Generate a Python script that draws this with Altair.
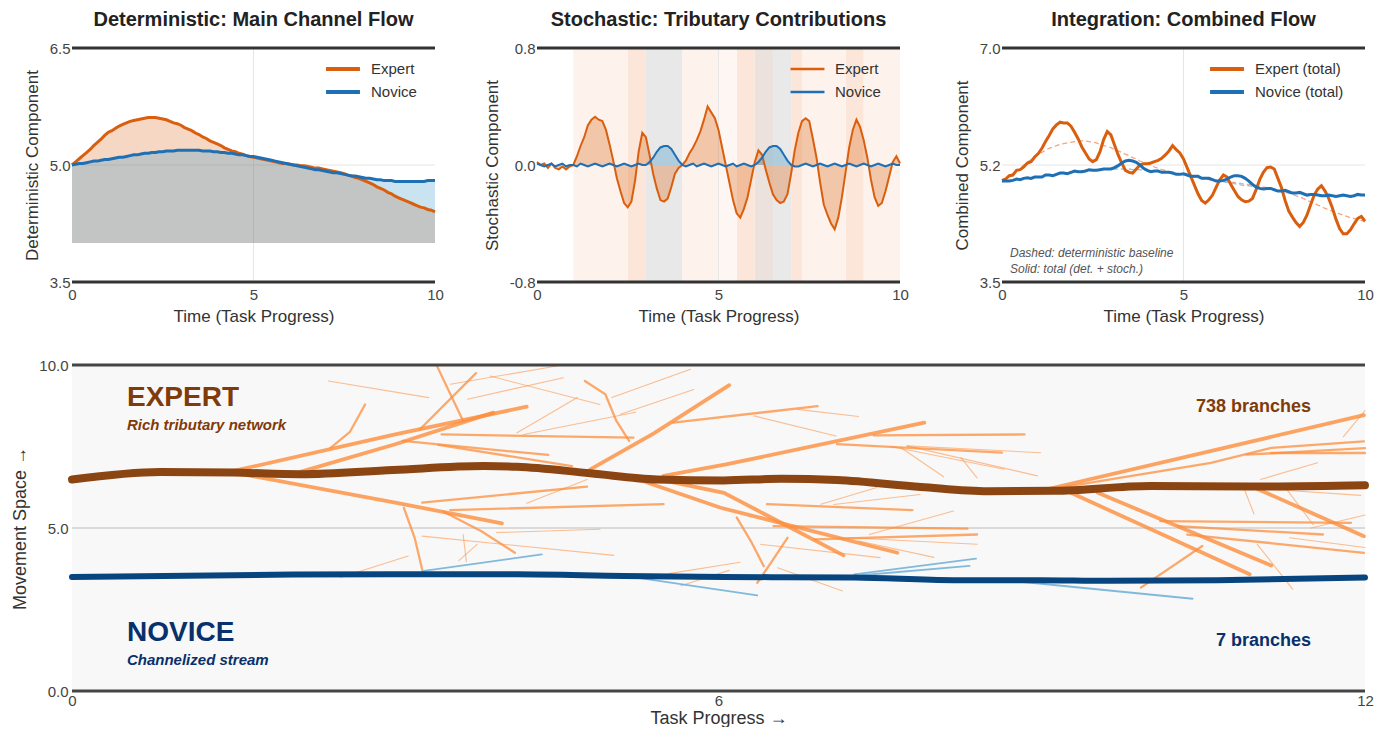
import altair as alt
import pandas as pd

# ---------------- colours ----------------
EXP = "#d95f0e"
NOV = "#1f6fb4"
EXP_FILL = "#d95f0e"
NOV_FILL = "#2d8fc2"
GRID = "#e6e6e6"
FRAME = "#333333"
BR_ORANGE = "#fd8d3c"
BR_BLUE = "#6baed6"
EXP_MAIN_C = "#8b4513"
NOV_MAIN_C = "#08457e"
EXP_TXT = "#7f3b08"
NOV_TXT = "#08306b"

# ---------------- time grid ----------------
T = [i / 10 for i in range(101)]

DET_EXPERT = [5.00, 5.04, 5.08, 5.12, 5.16, 5.20, 5.25, 5.29, 5.33, 5.38,
              5.42, 5.44, 5.47, 5.50, 5.52, 5.54, 5.56, 5.57, 5.58, 5.59,
              5.60, 5.61, 5.61, 5.61, 5.60, 5.59, 5.58, 5.56, 5.54, 5.53,
              5.51, 5.48, 5.46, 5.44, 5.41, 5.39, 5.36, 5.34, 5.31, 5.29,
              5.27, 5.25, 5.22, 5.20, 5.18, 5.17, 5.15, 5.14, 5.12, 5.11,
              5.10, 5.09, 5.08, 5.07, 5.06, 5.05, 5.04, 5.03, 5.02, 5.02,
              5.01, 5.00, 5.00, 4.99, 4.99, 4.98, 4.97, 4.96, 4.96, 4.95,
              4.94, 4.93, 4.92, 4.91, 4.90, 4.89, 4.87, 4.86, 4.84, 4.83,
              4.81, 4.79, 4.77, 4.75, 4.72, 4.70, 4.68, 4.65, 4.63, 4.60,
              4.58, 4.56, 4.54, 4.52, 4.50, 4.48, 4.46, 4.45, 4.43, 4.42,
              4.40]

DET_NOVICE = [5.00, 5.01, 5.02, 5.02, 5.03, 5.04, 5.05, 5.05, 5.06, 5.07,
              5.07, 5.08, 5.09, 5.10, 5.10, 5.11, 5.12, 5.13, 5.13, 5.14,
              5.15, 5.15, 5.16, 5.16, 5.17, 5.17, 5.18, 5.18, 5.18, 5.19,
              5.19, 5.19, 5.19, 5.19, 5.19, 5.19, 5.18, 5.18, 5.18, 5.17,
              5.17, 5.16, 5.16, 5.15, 5.15, 5.14, 5.13, 5.13, 5.12, 5.11,
              5.11, 5.10, 5.09, 5.08, 5.07, 5.06, 5.05, 5.04, 5.03, 5.02,
              5.01, 5.00, 4.99, 4.98, 4.97, 4.96, 4.95, 4.94, 4.94, 4.93,
              4.92, 4.91, 4.90, 4.90, 4.89, 4.88, 4.87, 4.86, 4.86, 4.85,
              4.84, 4.83, 4.83, 4.82, 4.81, 4.81, 4.80, 4.80, 4.80, 4.79,
              4.79, 4.79, 4.79, 4.79, 4.79, 4.79, 4.79, 4.79, 4.80, 4.80,
              4.80]

STO_EXPERT = [0.02, 0.00, 0.01, -0.02, 0.01, -0.02, -0.03, -0.01, -0.03, -0.01,
              0.00, 0.06, 0.13, 0.19, 0.27, 0.31, 0.33, 0.31, 0.30, 0.24,
              0.14, 0.03, -0.09, -0.18, -0.26, -0.29, -0.25, -0.11, 0.09, 0.22,
              0.19, 0.07, -0.06, -0.16, -0.24, -0.25, -0.23, -0.15, -0.06, -0.02,
              0.00, 0.03, 0.08, 0.12, 0.17, 0.23, 0.31, 0.40, 0.36, 0.32,
              0.24, 0.12, 0.00, -0.12, -0.24, -0.33, -0.36, -0.30, -0.22, -0.10,
              0.02, 0.10, 0.07, -0.03, -0.12, -0.20, -0.24, -0.26, -0.25, -0.20,
              -0.06, 0.10, 0.22, 0.30, 0.32, 0.30, 0.18, 0.05, -0.12, -0.27,
              -0.34, -0.40, -0.44, -0.36, -0.22, -0.05, 0.12, 0.24, 0.31, 0.26,
              0.17, 0.05, -0.10, -0.22, -0.28, -0.26, -0.18, -0.08, 0.02, 0.06,
              0.01]

STO_NOVICE = [0.01, 0.00, -0.01, 0.00, 0.01, -0.01, 0.00, 0.01, -0.01, 0.00,
              0.00, -0.01, 0.01, 0.00, -0.01, 0.00, 0.01, 0.00, -0.01, 0.00,
              0.01, 0.00, -0.01, 0.00, 0.01, 0.00, -0.01, 0.00, 0.01, 0.00,
              0.00, 0.02, 0.05, 0.09, 0.12, 0.13, 0.13, 0.11, 0.07, 0.03,
              0.00, -0.01, 0.00, 0.01, -0.01, 0.00, 0.01, 0.00, -0.01, 0.00,
              0.01, 0.00, -0.01, 0.00, 0.01, -0.01, 0.00, 0.01, 0.00, -0.01,
              0.00, 0.02, 0.05, 0.09, 0.12, 0.13, 0.13, 0.11, 0.07, 0.03,
              0.00, -0.01, -0.01, 0.00, 0.01, 0.00, -0.01, 0.00, 0.01, 0.00,
              -0.01, 0.00, 0.01, 0.00, -0.01, 0.00, 0.01, 0.00, -0.01, 0.00,
              0.01, 0.00, -0.01, 0.00, 0.01, 0.00, -0.01, 0.00, 0.01, 0.00,
              0.00]

# shaded tributary windows in the stochastic panel
BAND_START = [1.0, 2.5, 3.0, 4.0, 5.0, 5.5, 6.0, 6.5, 7.0, 7.3, 8.5, 9.0]
BAND_END = [2.5, 3.0, 4.0, 5.0, 5.5, 6.0, 6.5, 7.0, 7.3, 8.5, 9.0, 10.0]
BAND_COLOR = ["#fdf2ec", "#fce6d9", "#e8e8e8", "#fdf2ec", "#fef6f2", "#fce6d9",
              "#ebe2dd", "#e9e9e9", "#fce6d9", "#fdf2ec", "#fce6d9", "#fdf2ec"]

# ---------------- river network (bottom panel) ----------------
EXP_MAIN_X = [0.0, 0.82, 1.5, 2.12, 2.98, 3.82, 4.13, 4.81, 5.43, 6.05, 6.58, 7.1,
              7.88, 8.5, 9.11, 10.01, 10.94, 12.0]
EXP_MAIN_Y = [6.49, 6.72, 6.70, 6.65, 6.78, 6.90, 6.88, 6.68, 6.49, 6.46, 6.51, 6.47,
              6.26, 6.13, 6.14, 6.29, 6.27, 6.31]
NOV_MAIN_X = [0.0, 2.05, 2.98, 4.13, 5.12, 6.05, 6.58, 7.26, 8.18, 8.99, 9.6, 10.63, 12.0]
NOV_MAIN_Y = [3.50, 3.57, 3.58, 3.58, 3.53, 3.50, 3.49, 3.48, 3.40, 3.40, 3.38, 3.40, 3.48]

EXPERT_BRANCHES = [
    ("thick", [(1.50, 6.75), (3.00, 7.87), (4.22, 8.72)]),
    ("thick", [(2.12, 6.72), (3.00, 7.57), (3.91, 8.54)]),
    ("thick", [(1.50, 6.70), (3.00, 5.78), (3.99, 5.14)]),
    ("med", [(2.40, 7.46), (2.58, 7.95), (2.72, 8.79)]),
    ("thin", [(2.38, 9.51), (3.31, 9.00)]),
    ("thin", [(2.49, 3.48), (3.12, 4.14)]),
    ("med", [(3.08, 5.62), (3.18, 4.70), (3.25, 3.73)]),
    ("med", [(3.25, 5.78), (4.78, 6.27)]),
    ("med", [(3.51, 5.55), (5.49, 5.73)]),
    ("med", [(3.45, 5.50), (3.80, 4.90), (4.11, 4.24)]),
    ("thin", [(3.25, 4.75), (5.03, 4.16)]),
    ("thin", [(3.94, 4.86), (4.90, 4.96)]),
    ("thin", [(3.59, 4.00), (3.76, 4.50)]),
    ("thin", [(3.63, 4.80), (3.66, 3.97)]),
    ("thin", [(4.22, 5.76), (4.78, 6.49)]),
    ("med", [(3.43, 7.87), (5.21, 7.77)]),
    ("med", [(3.07, 7.67), (4.42, 7.24)]),
    ("med", [(3.40, 7.55), (4.64, 6.90)]),
    ("med", [(3.39, 9.95), (3.63, 8.28)]),
    ("med", [(3.75, 9.75), (3.23, 8.03)]),
    ("thin", [(3.51, 9.41), (4.50, 9.97)]),
    ("thin", [(3.67, 8.95), (4.56, 9.61)]),
    ("thin", [(3.88, 9.66), (4.90, 8.79)]),
    ("thin", [(4.13, 7.92), (4.69, 9.00)]),
    ("med", [(4.76, 9.51), (4.95, 9.10), (5.05, 8.30), (5.17, 7.67)]),
    ("thin", [(5.01, 9.00), (5.74, 9.87)]),
    ("thin", [(5.09, 8.49), (5.77, 9.25)]),
    ("thin", [(4.19, 7.87), (5.23, 8.55)]),
    ("thick", [(4.81, 6.80), (5.40, 7.90), (6.10, 9.38)]),
    ("med", [(5.58, 8.23), (6.92, 8.74)]),
    ("thick", [(5.49, 6.60), (6.07, 6.95), (7.91, 8.23)]),
    ("thick", [(5.50, 6.45), (6.05, 6.08), (7.16, 4.16)]),
    ("thick", [(5.20, 6.55), (6.02, 5.62), (7.66, 4.24)]),
    ("thin", [(6.33, 8.44), (7.09, 7.82)]),
    ("thin", [(6.73, 8.64), (7.30, 8.42)]),
    ("med", [(7.44, 7.84), (8.84, 7.87)]),
    ("med", [(7.10, 7.57), (8.63, 7.31)]),
    ("thin", [(7.75, 7.52), (8.99, 7.31)]),
    ("thin", [(7.75, 7.52), (8.96, 6.60)]),
    ("thin", [(7.60, 7.50), (8.65, 6.80)]),
    ("thin", [(8.25, 7.16), (8.40, 6.54)]),
    ("thin", [(7.69, 7.47), (8.09, 6.57)]),
    ("med", [(6.45, 5.73), (7.80, 5.55)]),
    ("thin", [(6.95, 5.73), (7.47, 6.24)]),
    ("thin", [(7.07, 5.72), (7.87, 6.03)]),
    ("med", [(6.51, 5.06), (8.31, 4.98)]),
    ("med", [(6.89, 4.65), (8.40, 4.80)]),
    ("thin", [(7.20, 4.70), (8.40, 4.50)]),
    ("thin", [(7.30, 4.60), (8.00, 4.10)]),
    ("thin", [(7.40, 4.80), (8.18, 5.52)]),
    ("thin", [(6.39, 4.50), (7.50, 4.09)]),
    ("thin", [(6.55, 3.78), (7.15, 3.07)]),
    ("med", [(6.17, 5.32), (6.30, 4.60), (6.42, 3.83)]),
    ("med", [(6.64, 4.70), (6.50, 4.00), (6.36, 3.32)]),
    ("thin", [(5.54, 3.60), (6.20, 3.95)]),
    ("thin", [(5.65, 3.23), (6.10, 3.70)]),
    ("thick", [(9.00, 6.15), (11.99, 8.46)]),
    ("med", [(9.10, 6.20), (10.57, 7.00), (11.13, 7.46), (11.99, 7.66)]),
    ("med", [(11.13, 7.30), (12.00, 7.30)]),
    ("med", [(10.90, 7.25), (12.00, 7.45)]),
    ("thin", [(11.03, 6.49), (11.56, 7.00)]),
    ("thin", [(11.80, 7.80), (12.00, 8.60)]),
    ("thick", [(9.27, 6.08), (10.93, 3.58)]),
    ("thick", [(9.52, 6.08), (11.13, 3.85)]),
    ("med", [(10.10, 5.21), (11.87, 5.16)]),
    ("med", [(10.35, 4.80), (11.99, 4.24)]),
    ("med", [(10.26, 5.06), (11.61, 4.80)]),
    ("thick", [(10.94, 6.29), (11.99, 4.75)]),
    ("thin", [(11.06, 6.20), (11.96, 6.00)]),
    ("med", [(9.92, 3.17), (10.49, 4.45)]),
    ("thin", [(11.00, 4.50), (11.33, 3.12)]),
    ("thin", [(11.27, 6.20), (11.52, 5.10)]),
    ("thin", [(11.50, 5.00), (12.00, 5.40)]),
    ("thin", [(11.30, 4.70), (12.00, 4.40)]),
    ("thin", [(10.88, 6.19), (10.97, 5.43)]),
]

NOVICE_BRANCHES = [
    [(3.25, 3.68), (4.36, 4.19)],
    [(5.24, 3.48), (6.36, 2.93)],
    [(7.26, 3.58), (8.39, 4.06)],
    [(7.32, 3.55), (8.33, 3.84)],
    [(8.60, 3.42), (10.40, 2.83)],
]

LABEL_TEXT = ["EXPERT", "Rich tributary network", "NOVICE", "Channelized stream",
              "738 branches", "7 branches"]
LABEL_X = [0.51, 0.51, 0.51, 0.51, 11.50, 11.50]
LABEL_Y = [8.99, 8.16, 1.78, 0.95, 8.71, 1.53]

# ---------------- common pieces ----------------
W, H = 363, 234
XS = alt.Scale(domain=[0, 10], nice=False, zero=False)
XAX = alt.Axis(values=[0, 5, 10], title="Time (Task Progress)", labelPadding=5, titlePadding=6)


def leg(x, sw):
    return alt.Legend(orient="none", legendX=x, legendY=12, direction="vertical",
                      title=None, symbolType="stroke", symbolSize=1150,
                      symbolStrokeWidth=sw, labelFontSize=15, labelColor="#333",
                      clipHeight=18, rowPadding=5, labelOffset=9, padding=0)


def panel_layers(ys, yax, yvals_frame, ymid):
    def X(f="t:Q"):
        return alt.X(f, scale=XS, axis=XAX)

    def Y(f="v:Q", **kw):
        return alt.Y(f, scale=ys, axis=yax, **kw)

    gv = alt.Chart(pd.DataFrame({"t": [5.0]})).mark_rule(color=GRID, strokeWidth=1).encode(x=X())
    gh = alt.Chart(pd.DataFrame({"v": [ymid]})).mark_rule(color=GRID, strokeWidth=1).encode(y=Y())
    fr = alt.Chart(pd.DataFrame({"v": yvals_frame})).mark_rule(
        color=FRAME, strokeWidth=3).encode(y=Y())
    return X, Y, gv, gh, fr


# fill groups get their own domain so their (hidden) legend never merges with the line legend
fill_scale = alt.Scale(domain=["Expert fill", "Novice fill"], range=[EXP_FILL, NOV_FILL])

# ---------------- panel 1 ----------------
df1 = pd.DataFrame({"t": T * 2, "v": DET_EXPERT + DET_NOVICE,
                    "series": ["Expert"] * 101 + ["Novice"] * 101})
df1["grp"] = df1["series"] + " fill"
cs1 = alt.Scale(domain=["Expert", "Novice"], range=[EXP, NOV])
ys1 = alt.Scale(domain=[3.5, 6.5], nice=False, zero=False)
yax1 = alt.Axis(values=[3.5, 5.0, 6.5], format=".1f", title="Deterministic Component",
                titlePadding=8)
X1, Y1, g1v, g1h, f1 = panel_layers(ys1, yax1, [3.5, 6.5], 5.0)
area1 = alt.Chart(df1).mark_area(opacity=0.25).encode(
    x=X1(), y=Y1(stack=None), y2=alt.datum(4.0),
    fill=alt.Fill("grp:N", scale=fill_scale, legend=None))
line1 = alt.Chart(df1).mark_line(strokeWidth=3).encode(
    x=X1(), y=Y1(),
    color=alt.Color("series:N", scale=cs1, legend=leg(252, 4)))
p1 = alt.layer(g1v, g1h, area1, line1, f1).properties(
    width=W, height=H, title="Deterministic: Main Channel Flow")

# ---------------- panel 2 ----------------
df2 = pd.DataFrame({"t": T * 2, "v": STO_EXPERT + STO_NOVICE,
                    "series": ["Expert"] * 101 + ["Novice"] * 101})
df2["grp"] = df2["series"] + " fill"
bands = pd.DataFrame({"a": BAND_START, "b": BAND_END, "c": BAND_COLOR})
ys2 = alt.Scale(domain=[-0.8, 0.8], nice=False, zero=False)
yax2 = alt.Axis(values=[-0.8, 0.0, 0.8], title="Stochastic Component", titlePadding=8,
                labelExpr="datum.value < 0 ? '-' + format(-datum.value, '.1f') : format(datum.value, '.1f')")
X2, Y2, g2v, g2h, f2 = panel_layers(ys2, yax2, [-0.8, 0.8], 0.0)
band_layers = [
    alt.Chart(bands[bands["c"] == col]).mark_rect(color=col).encode(x=X2("a:Q"), x2="b:Q")
    for col in sorted(set(BAND_COLOR))
]
area2 = alt.Chart(df2).mark_area(opacity=0.3).encode(
    x=X2(), y=Y2(stack=None), y2=alt.datum(0.0),
    fill=alt.Fill("grp:N", scale=fill_scale, legend=None))
line2 = alt.Chart(df2).mark_line(strokeWidth=2).encode(
    x=X2(), y=Y2(),
    color=alt.Color("series:N", scale=cs1, legend=leg(252, 2.5)))
p2 = alt.layer(*band_layers, g2v, g2h, area2, line2, f2).properties(
    width=W, height=H, title="Stochastic: Tributary Contributions")

# ---------------- panel 3 ----------------
TOT_EXPERT = [round(d + s, 3) for d, s in zip(DET_EXPERT, STO_EXPERT)]
TOT_NOVICE = [round(d + s, 3) for d, s in zip(DET_NOVICE, STO_NOVICE)]
df3 = pd.DataFrame({"t": T * 2, "v": TOT_EXPERT + TOT_NOVICE,
                    "series": ["Expert (total)"] * 101 + ["Novice (total)"] * 101})
cs3 = alt.Scale(domain=["Expert (total)", "Novice (total)"], range=[EXP, NOV])
ys3 = alt.Scale(domain=[3.5, 7.0], nice=False, zero=False)
yax3 = alt.Axis(values=[3.5, 5.25, 7.0], title="Combined Component", titlePadding=8,
                labelExpr="datum.value == 5.25 ? '5.2' : format(datum.value, '.1f')")
X3, Y3, g3v, g3h, f3 = panel_layers(ys3, yax3, [3.5, 7.0], 5.25)
dash_e = alt.Chart(pd.DataFrame({"t": T, "v": DET_EXPERT})).mark_line(
    color="#f4a582", strokeWidth=1.3, strokeDash=[5, 3]).encode(x=X3(), y=Y3())
dash_n = alt.Chart(pd.DataFrame({"t": T, "v": DET_NOVICE})).mark_line(
    color="#92c5de", strokeWidth=1.3, strokeDash=[5, 3]).encode(x=X3(), y=Y3())
line3 = alt.Chart(df3).mark_line(strokeWidth=3).encode(
    x=X3(), y=Y3(),
    color=alt.Color("series:N", scale=cs3, legend=leg(206, 4)))
note = alt.Chart(pd.DataFrame({
    "t": [0.22, 0.22], "v": [3.93, 3.69],
    "txt": ["Dashed: deterministic baseline", "Solid: total (det. + stoch.)"]})).mark_text(
    align="left", baseline="middle", fontSize=12, fontStyle="italic", color="#555").encode(
    x=X3(), y=Y3(), text="txt:N")
p3 = alt.layer(g3v, g3h, dash_e, dash_n, line3, note, f3).properties(
    width=W, height=H, title="Integration: Combined Flow")

# ---------------- bottom panel ----------------
WSTYLE = {"thick": (3.8, 0.8), "med": (2.3, 0.75), "thin": (1.1, 0.55)}
rows = []
for i, (kind, pts) in enumerate(EXPERT_BRANCHES):
    w, o = WSTYLE[kind]
    for k, (x, y) in enumerate(pts):
        rows.append({"id": f"e{i}", "k": k, "x": x, "y": y, "w": w, "o": o, "c": BR_ORANGE})
for i, pts in enumerate(NOVICE_BRANCHES):
    for k, (x, y) in enumerate(pts):
        rows.append({"id": f"n{i}", "k": k, "x": x, "y": y, "w": 1.8, "o": 0.85, "c": BR_BLUE})
br = pd.DataFrame(rows)

main = pd.DataFrame({
    "x": EXP_MAIN_X + NOV_MAIN_X, "y": EXP_MAIN_Y + NOV_MAIN_Y,
    "s": ["e"] * len(EXP_MAIN_X) + ["n"] * len(NOV_MAIN_X),
    "c": [EXP_MAIN_C] * len(EXP_MAIN_X) + [NOV_MAIN_C] * len(NOV_MAIN_X),
    "w": [8] * len(EXP_MAIN_X) + [6] * len(NOV_MAIN_X)})

XSB = alt.Scale(domain=[0, 12], nice=False, zero=False)
YSB = alt.Scale(domain=[0, 10], nice=False, zero=False)
XAXB = alt.Axis(values=[0, 6, 12], title="Task Progress →", labelPadding=2, titlePadding=1,
                titleFontSize=18, labelFontSize=15)
YAXB = alt.Axis(values=[0, 5, 10], format=".1f", title="Movement Space →", titlePadding=9,
                titleFontSize=18, labelFontSize=15, labelPadding=4)


def XB(f="x:Q"):
    return alt.X(f, scale=XSB, axis=XAXB)


def YB(f="y:Q"):
    return alt.Y(f, scale=YSB, axis=YAXB)


gb = alt.Chart(pd.DataFrame({"y": [5.0]})).mark_rule(color="#d0d0d0", strokeWidth=1.5).encode(y=YB())
branches = alt.Chart(br).mark_line(strokeCap="round").encode(
    x=XB(), y=YB(), detail="id:N", order="k:Q",
    color=alt.Color("c:N", scale=None),
    strokeWidth=alt.StrokeWidth("w:Q", scale=None),
    opacity=alt.Opacity("o:Q", scale=None))
mains = alt.Chart(main).mark_line(interpolate="monotone", strokeCap="round").encode(
    x=XB(), y=YB(), detail="s:N", order="x:Q",
    color=alt.Color("c:N", scale=None),
    strokeWidth=alt.StrokeWidth("w:Q", scale=None))
fb = alt.Chart(pd.DataFrame({"y": [0.0, 10.0]})).mark_rule(color="#444", strokeWidth=3).encode(y=YB())

lab = pd.DataFrame({"x": LABEL_X, "y": LABEL_Y, "txt": LABEL_TEXT})


def lab_layer(idx, **kw):
    return alt.Chart(lab.iloc[idx]).mark_text(baseline="middle", **kw).encode(
        x=XB(), y=YB(), text="txt:N")


t_big_e = lab_layer([0], align="left", fontSize=28, fontWeight="bold", color=EXP_TXT)
t_sub_e = lab_layer([1], align="left", fontSize=15, fontWeight="bold", fontStyle="italic", color=EXP_TXT)
t_big_n = lab_layer([2], align="left", fontSize=28, fontWeight="bold", color=NOV_TXT)
t_sub_n = lab_layer([3], align="left", fontSize=15, fontWeight="bold", fontStyle="italic", color=NOV_TXT)
t_cnt_e = lab_layer([4], align="right", fontSize=18, fontWeight="bold", color=EXP_TXT)
t_cnt_n = lab_layer([5], align="right", fontSize=18, fontWeight="bold", color=NOV_TXT)

bottom = alt.layer(gb, branches, mains, fb, t_big_e, t_sub_e, t_big_n, t_sub_n,
                   t_cnt_e, t_cnt_n).properties(
    width=3 * W + 2 * 102, height=326,
    view=alt.ViewBackground(fill="#f8f8f8", strokeWidth=0))

top = alt.hconcat(p1, p2, p3, spacing=102, bounds="flush").resolve_scale(
    color="independent", fill="independent")

# the nested row has no intrinsic height under flush bounds, so spacing = row height + gap
chart = alt.vconcat(top, bottom, spacing=H + 83, bounds="flush").properties(
    padding={"left": 3, "top": 2, "right": 0, "bottom": 0}
).configure(font="Liberation Sans").configure_view(strokeWidth=0).configure_axis(
    labelFontSize=15, titleFontSize=17, labelColor="#444", titleColor="#333",
    ticks=False, domain=False, grid=False, titleFontWeight="normal", labelFlush=False
).configure_title(fontSize=20, fontWeight="bold", color="#222", offset=11, anchor="middle")

chart.save("out.html", embed_options={"renderer": "svg", "actions": False})
